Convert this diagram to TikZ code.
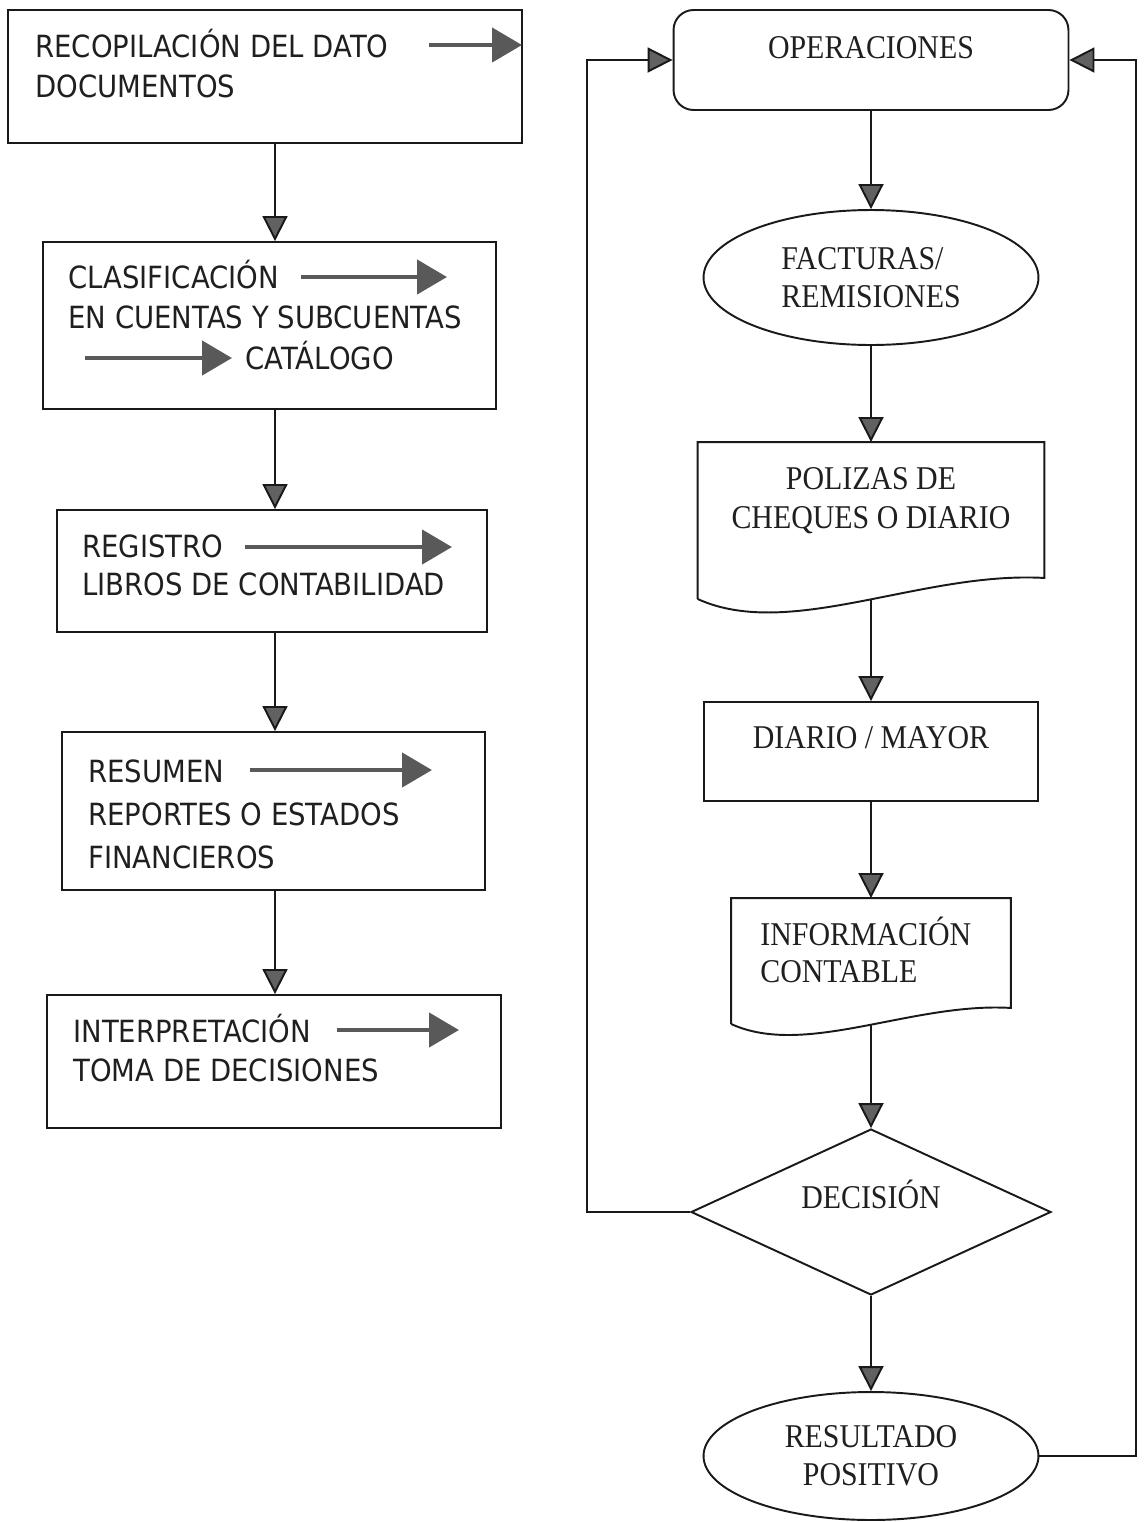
\documentclass[tikz,border=0pt]{standalone}
\usepackage{fontspec}
\usetikzlibrary{arrows.meta,shapes.geometric,calc}
\newfontfamily\lfont[FakeStretch=0.9]{DejaVu Sans}
\newfontfamily\rfont[FakeStretch=0.9]{Liberation Serif}
\tikzset{
  box/.style={draw=black!90, line width=1.1pt, inner sep=0pt},
  ltxt/.style={font=\lfont\fontsize{17.4}{22.7}\selectfont, text=black!88, inner sep=0pt, anchor=base west},
  rtxt/.style={font=\rfont\fontsize{18.9}{21.6}\selectfont, text=black!88, inner sep=0pt},
  conn/.style={draw=black!90, line width=1.1pt, -{Triangle[length=0.5cm, width=0.5cm, fill=black!62]}},
  inarrow/.style={draw=black!65, line width=2.6pt, -{Triangle[length=0.6cm, width=0.68cm]}}
}
\begin{document}
\begin{tikzpicture}[x=0.02cm, y=-0.02cm]
\useasboundingbox (0,0) rectangle (1146,1522);
% left column
\coordinate (spine) at (275,0);
\node[box, minimum width=10.28cm, minimum height=2.66cm] (recop) at (265,76.5) {};
\node[box, minimum width=9.06cm, minimum height=3.34cm] (clasif) at (269.5,325.5) {};
\node[box, minimum width=8.6cm, minimum height=2.44cm] (regis) at (272,571) {};
\node[box, minimum width=8.46cm, minimum height=3.16cm] (resum) at (273.5,811) {};
\node[box, minimum width=9.08cm, minimum height=2.66cm] (interp) at (274,1061.5) {};
\foreach \a/\b in {recop/clasif,clasif/regis,regis/resum,resum/interp}
  \draw[conn] (\a.south -| spine) -- (\b.north -| spine);

\node[ltxt] (recopt) at (35,57) {RECOPILACIÓN DEL DATO};
\node[ltxt] (doct) at (35,97) {DOCUMENTOS};
\coordinate (recopa) at (522,45);
\draw[inarrow, shorten <=0.8cm] (recopt.east |- recopa) -- (recopa);

\node[ltxt] (clasift) at (68,288) {CLASIFICACIÓN};
\node[ltxt] (cuentast) at (68,328) {EN CUENTAS Y SUBCUENTAS};
\node[ltxt] (catalt) at (245,369) {CATÁLOGO};
\coordinate (clasifa) at (447,277);
\coordinate (catala) at (85,358);
\draw[inarrow, shorten <=0.44cm] (clasift.east |- clasifa) -- (clasifa);
\draw[inarrow, shorten >=0.26cm] (catala) -- (catalt.west |- catala);

\node[ltxt] (regist) at (82,557) {REGISTRO};
\node[ltxt] (librost) at (82,595) {LIBROS DE CONTABILIDAD};
\coordinate (regisa) at (452,547);
\draw[inarrow, shorten <=0.42cm] (regist.east |- regisa) -- (regisa);

\node[ltxt] (resumt) at (88,782) {RESUMEN};
\node[ltxt] (reportt) at (88,825) {REPORTES O ESTADOS};
\node[ltxt] (financt) at (88,868) {FINANCIEROS};
\coordinate (resuma) at (432,770);
\draw[inarrow, shorten <=0.5cm] (resumt.east |- resuma) -- (resuma);

\node[ltxt] (interpt) at (73,1042) {INTERPRETACIÓN};
\node[ltxt] (tomat) at (73,1081) {TOMA DE DECISIONES};
\coordinate (interpa) at (459,1030);
\draw[inarrow, shorten <=0.52cm] (interpt.east |- interpa) -- (interpa);

% right column
\node[box, rounded corners=0.4cm, minimum width=7.9cm, minimum height=2cm, rtxt, text height=0.44cm, text depth=0.52cm] (oper) at (871,60) {OPERACIONES};
\node[box, ellipse, minimum width=6.7cm, minimum height=2.7cm, rtxt, align=left] (fact) at (871,277.5) {FACTURAS/\\REMISIONES};
\node[box, draw=none, minimum width=6.9cm, minimum height=3.1cm] (pol) at (871,520.5) {};
\draw[box] (pol.south west) -- (pol.north west) -- (pol.north east) -- ($(pol.south east)+(0,-21)$)
  .. controls ($(pol.south east)+(-123,-28)$) and ($(pol.south west)+(92,42)$) .. (pol.south west);
\node[rtxt, anchor=base] (polt) at (871,489) {POLIZAS DE};
\node[rtxt, anchor=base] (chequt) at (871,528) {CHEQUES O DIARIO};
\node[box, minimum width=6.68cm, minimum height=1.98cm, rtxt, text height=0.44cm, text depth=0.58cm] (diar) at (871,751.5) {DIARIO / MAYOR};
\node[box, draw=none, minimum width=5.56cm, minimum height=2.48cm] (info) at (871,961) {};
\draw[box] (info.south west) -- (info.north west) -- (info.north east) -- ($(info.south east)+(0,-16)$)
  .. controls ($(info.south east)+(-99,-22)$) and ($(info.south west)+(74,34)$) .. (info.south west);
\node[rtxt, anchor=base west] (infot) at (760,945) {INFORMACIÓN};
\node[rtxt, anchor=base west] (contt) at (760,982) {CONTABLE};
\node[box, diamond, aspect=2.2, minimum width=7.2cm, minimum height=3.32cm, rtxt, text height=0.44cm, text depth=0.6cm] (dec) at (871,1212) {DECISIÓN};
\node[box, ellipse, minimum width=6.7cm, minimum height=2.56cm, rtxt, align=center] (res) at (871,1456) {RESULTADO\\POSITIVO};

\draw[conn] (oper.south) -- (fact.north);
\draw[conn] (fact.south) -- (pol.north);
\draw[conn] (pol.south) -- (diar.north);
\draw[conn] (diar.south) -- (info.north);
\draw[conn] (info.south) -- (dec.north);
\draw[conn] (dec.south) -- (res.north);
% loops back
\draw[conn] (dec.west) -| ($(oper.west)+(-86,0)$) -- (oper.west);
\draw[conn] (res.east) -| ($(oper.east)+(67,0)$) -- (oper.east);
\end{tikzpicture}
\end{document}
